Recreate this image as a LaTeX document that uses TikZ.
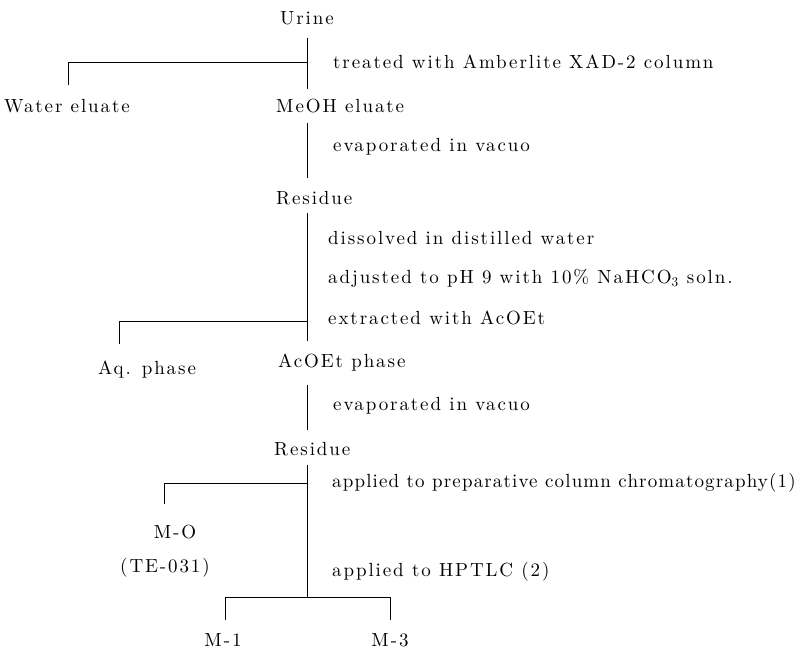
\documentclass[tikz,border=0pt]{standalone}
\usepackage{fontspec}
\setmainfont{lmroman10-regular.otf}[LetterSpace=10]
\newfontfamily\tightfont{lmroman10-regular.otf}[LetterSpace=6]
\usetikzlibrary{positioning}

\begin{document}
\begin{tikzpicture}[x=1pt, y=-1pt, line join=round,
    font=\fontsize{19}{22}\selectfont,
    stage/.style={anchor=west, inner sep=0pt},
    note/.style={anchor=west, inner sep=0pt},
    leaf/.style={inner sep=0pt},
    link/.style={line width=0.8pt}]

    \useasboundingbox (0,0) rectangle (804,650);

    % main column at x = 307, left edge of the stage names at x = 276
    % ==========================================
    % STAGES
    % ==========================================
    \node[leaf] (urine) at (307,18) {Urine};
    \node[stage] (meoh) at (276,106) {MeOH eluate};
    \node[stage] (res1) at (276,198) {Residue};
    \node[stage] (acoet) at (278,363) {AcOEt phase};
    \node[stage] (res2) at (274,449) {Residue};

    % side products
    \node[leaf] (water) at (67,106) {Water eluate};
    \node[leaf] (aq) at (147,370) {Aq. phase};
    \node[leaf] (m0) at (175,532) {M-O};
    \node[leaf] (te) at (165,568) {(TE-031)};
    \node[leaf] (m1) at (223,640) {M-1};
    \node[leaf] (m3) at (390,640) {M-3};

    % ==========================================
    % TREATMENTS
    % ==========================================
    \node[note] (xad) at (333,62) {treated with Amberlite XAD-2 column};
    \node[note] (evap1) at (333,147) {evaporated in vacuo};
    \node[note] (diss) at (328,238) {dissolved in distilled water};
    \node[note] (ph) at (328,278) {adjusted to pH 9 with 10\% NaHCO\textsubscript{3} soln.};
    \node[note] (extr) at (328,318) {extracted with AcOEt};
    \node[note] (evap2) at (333,406) {evaporated in vacuo};
    \node[note, font=\tightfont\fontsize{19}{22}\selectfont] (prep) at (332,483)
        {applied to preparative column chromatography(1)};
    \node[note] (hptlc) at (332,572) {applied to HPTLC (2)};

    % ==========================================
    % LINES
    % ==========================================
    \coordinate (a1) at (307,38);  \coordinate (a2) at (307,89);
    \coordinate (a3) at (307,62);  \coordinate (a4) at (68,62);
    \coordinate (a5) at (68,85);
    \draw[link] (a1) -- (a2);
    \draw[link] (a3) -- (a4) -- (a5);

    \coordinate (b1) at (307,123); \coordinate (b2) at (307,178);
    \draw[link] (b1) -- (b2);

    \coordinate (c1) at (307,213); \coordinate (c2) at (307,341);
    \coordinate (c3) at (307,321); \coordinate (c4) at (119,321);
    \coordinate (c5) at (119,344);
    \draw[link] (c1) -- (c2);
    \draw[link] (c3) -- (c4) -- (c5);

    \coordinate (d1) at (307,385); \coordinate (d2) at (307,430);
    \draw[link] (d1) -- (d2);

    \coordinate (e1) at (307,465); \coordinate (e2) at (307,597);
    \coordinate (e3) at (307,483); \coordinate (e4) at (164,483);
    \coordinate (e5) at (164,504);
    \draw[link] (e1) -- (e2);
    \draw[link] (e3) -- (e4) -- (e5);

    \coordinate (f1) at (225,620); \coordinate (f2) at (225,597);
    \coordinate (f3) at (390,597); \coordinate (f4) at (390,620);
    \draw[link] (f1) -- (f2) -- (f3) -- (f4);

\end{tikzpicture}
\end{document}
